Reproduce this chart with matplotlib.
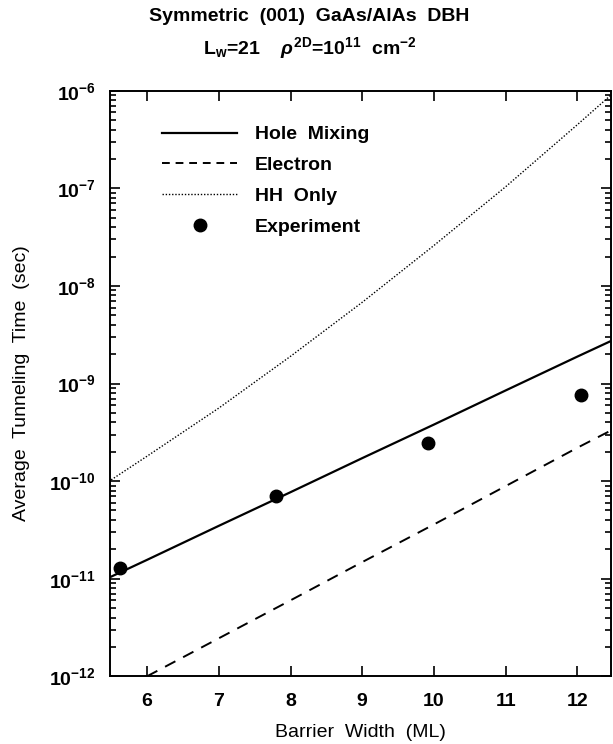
import matplotlib
matplotlib.use("Agg")
import matplotlib.pyplot as plt
from matplotlib.lines import Line2D
from matplotlib.ticker import LogLocator, FixedLocator, LogFormatterSciNotation

# ---- data ----
x_theory = [5.5, 6, 7, 8, 9, 10, 11, 12, 12.5]
hole_mixing = [1.05e-11, 1.56e-11, 3.48e-11, 7.7e-11, 1.72e-10, 3.8e-10, 8.5e-10, 1.89e-9, 2.8e-9]
electron = [None, 1.0e-12, 2.45e-12, 6.0e-12, 1.48e-11, 3.6e-11, 8.9e-11, 2.2e-10, 3.4e-10]
hh_only = [1.03e-10, 1.8e-10, 5.6e-10, 1.9e-9, 6.8e-9, 2.6e-8, 1.04e-7, 4.5e-7, 9.5e-7]

x_exp = [5.62, 7.8, 9.92, 12.05]
y_exp = [1.28e-11, 7.0e-11, 2.45e-10, 7.7e-10]

x_ticks = [6, 7, 8, 9, 10, 11, 12]
y_ticks = [1e-12, 1e-11, 1e-10, 1e-9, 1e-8, 1e-7, 1e-6]
title1 = "Symmetric  (001)  GaAs/AlAs  DBH"
title2 = r"L$_\mathregular{w}$=21    $\mathit{\rho}^\mathregular{2D}$=10$^\mathregular{11}$  cm$^\mathregular{-2}$"
xlabel = "Barrier  Width  (ML)"
ylabel = "Average  Tunneling  Time  (sec)"
legend_labels = ["Hole  Mixing", "Electron", "HH  Only", "Experiment"]

FONT = "Liberation Sans"
plt.rcParams["font.family"] = [FONT, "DejaVu Sans"]
plt.rcParams["font.weight"] = "bold"
plt.rcParams["mathtext.fontset"] = "custom"
plt.rcParams["mathtext.rm"] = FONT + ":bold"
plt.rcParams["mathtext.it"] = FONT + ":italic:bold"
plt.rcParams["mathtext.default"] = "regular"

fig = plt.figure(figsize=(6.13, 7.44), dpi=100)
ax = fig.add_axes([0.179, 0.091, 0.818, 0.787])

ex_x = [x for x, y in zip(x_theory, electron) if y is not None]
ex_y = [y for y in electron if y is not None]

ax.plot(x_theory, hole_mixing, color="black", lw=1.6, ls="-")
ax.plot(ex_x, ex_y, color="black", lw=1.4, ls=(0, (6, 4.5)))
ax.plot(x_theory, hh_only, color="black", lw=1.0, ls=(0, (1, 1.3)))
ax.plot(x_exp, y_exp, "o", color="black", ms=9, ls="none")

ax.set_yscale("log")
ax.set_xlim(5.48, 12.47)
ax.set_ylim(1e-12, 1e-6)
ax.xaxis.set_major_locator(FixedLocator(x_ticks))
ax.yaxis.set_major_locator(FixedLocator(y_ticks))
ax.yaxis.set_major_formatter(LogFormatterSciNotation())
ax.yaxis.set_minor_locator(LogLocator(base=10, subs=range(2, 10), numticks=20))
ax.tick_params(which="both", direction="in", top=True, right=True, width=1.2,
               labelsize=14)
ax.tick_params(which="major", length=7, pad=10)
ax.tick_params(which="minor", length=4)
ax.tick_params(axis="x", which="major", pad=12)
ax.yaxis.set_minor_formatter(plt.NullFormatter())
for s in ax.spines.values():
    s.set_linewidth(1.4)

ax.set_xlabel(xlabel, fontsize=14, labelpad=10)
ax.set_ylabel(ylabel, fontsize=14, labelpad=14)

fig.text(0.505, 0.978, title1, ha="center", va="center", fontsize=14)
fig.text(0.505, 0.935, title2, ha="center", va="center", fontsize=14)

handles = [
    Line2D([], [], color="black", lw=1.6, ls="-"),
    Line2D([], [], color="black", lw=1.4, ls=(0, (4, 3))),
    Line2D([], [], color="black", lw=1.0, ls=(0, (1, 1.3))),
    Line2D([], [], color="black", marker="o", ms=9, ls="none"),
]
ax.legend(handles, legend_labels, loc="upper left", bbox_to_anchor=(0.07, 0.97),
          frameon=False, fontsize=14, handlelength=3.85, handletextpad=0.9,
          labelspacing=0.68)

fig.savefig("out.png", dpi=100)
